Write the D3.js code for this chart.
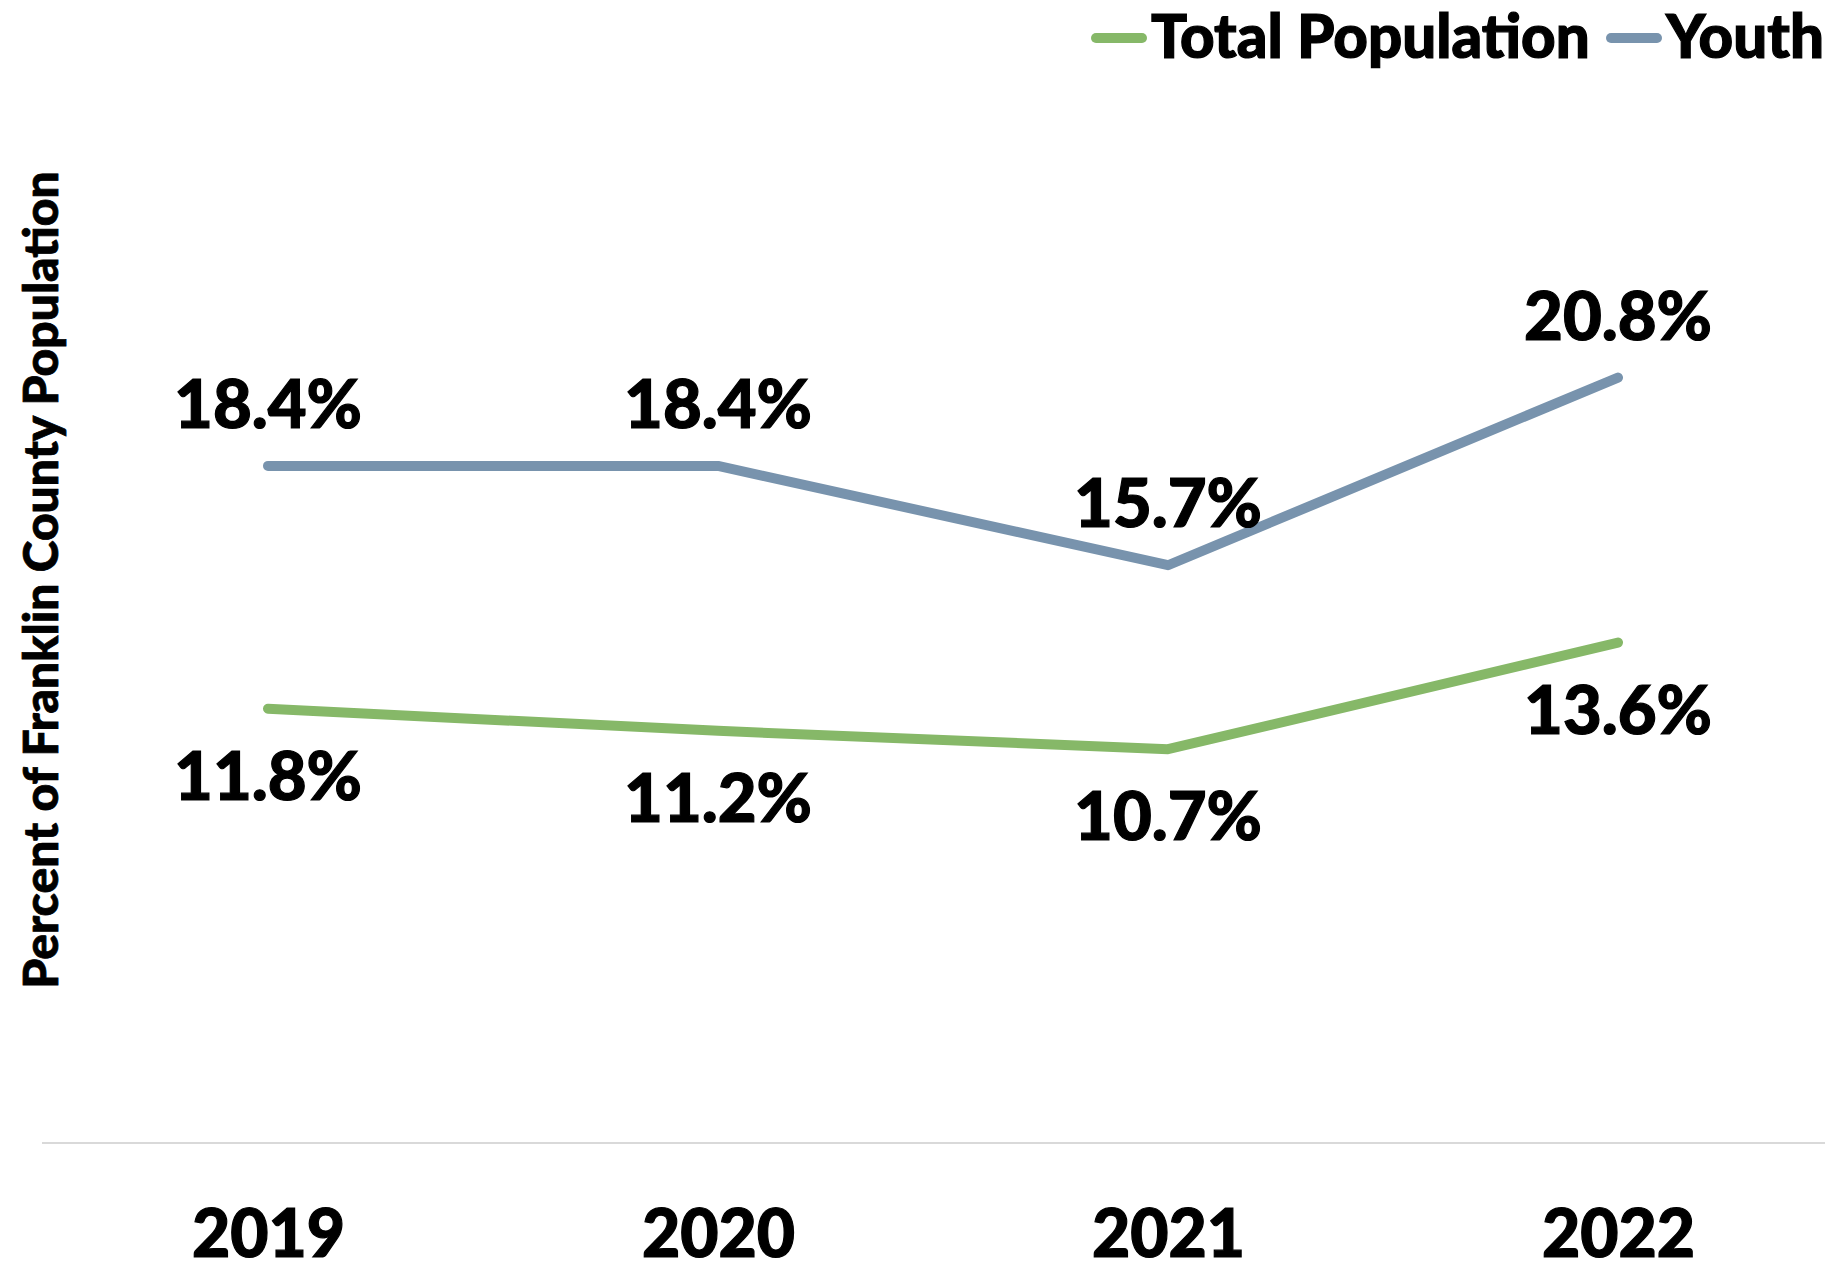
<!DOCTYPE html>
<html>
<head>
<meta charset="utf-8">
<script src="https://cdn.jsdelivr.net/npm/d3@7"></script>
<style>
  body { margin: 0; background: #fff; }
  svg { display: block; font-family: Lato, "Open Sans", sans-serif; font-weight: 900; }
  text { stroke: #000; stroke-width: 1.2px; }
</style>
</head>
<body>
<div id="myChart"></div>
<script>
const years = ["2019", "2020", "2021", "2022"];
const totalPopulation = [11.8, 11.2, 10.7, 13.6];
const youth = [18.4, 18.4, 15.7, 20.8];
const seriesNames = ["Total Population", "Youth"];
const seriesColors = ["#86B868", "#7893AD"];

const width = 1825,
  height = 1271;

const svg = d3
  .select("#myChart")
  .append("svg")
  .attr("width", width)
  .attr("height", height);

// scales
const x = d3.scalePoint().domain(years).range([43, 1843]).padding(0.5);
const y = d3.scaleLinear().domain([0, 25]).range([1143, 223]);

// baseline
svg
  .append("line")
  .attr("x1", 42)
  .attr("x2", width)
  .attr("y1", y(0))
  .attr("y2", y(0))
  .attr("stroke", "#D9D9D9")
  .attr("stroke-width", 2);

// x axis labels
const xAxis = svg
  .append("g")
  .attr("transform", "translate(0," + y(0) + ")")
  .call(d3.axisBottom(x).tickSize(0).tickPadding(0));
xAxis.select(".domain").remove();
xAxis
  .selectAll("text")
  .attr("dy", null)
  .attr("y", 114)
  .attr("fill", "#000")
  .style("font-family", "Lato, sans-serif")
  .style("font-weight", "900")
  .style("font-size", "66px");

// y axis title
svg
  .append("text")
  .attr("transform", "translate(58,580) rotate(-90)")
  .attr("text-anchor", "middle")
  .style("font-size", "48px")
  .style("stroke-width", "0.8px")
  .text("Percent of Franklin County Population");

const series = [
  { name: seriesNames[0], values: totalPopulation, color: seriesColors[0], dy: 91 },
  { name: seriesNames[1], values: youth, color: seriesColors[1], dy: -38 },
];

const line = d3
  .line()
  .x((d, i) => x(years[i]))
  .y((d) => y(d));

series.forEach((s) => {
  svg
    .append("path")
    .datum(s.values)
    .attr("fill", "none")
    .attr("stroke", s.color)
    .attr("stroke-width", 10)
    .attr("stroke-linecap", "round")
    .attr("stroke-linejoin", "round")
    .attr("d", line);

  svg
    .selectAll(null)
    .data(s.values)
    .enter()
    .append("text")
    .attr("x", (d, i) => x(years[i]))
    .attr("y", (d) => y(d) + s.dy)
    .attr("text-anchor", "middle")
    .style("font-size", "67px")
    .text((d) => d.toFixed(1) + "%");
});

// legend
const legendItems = [
  { name: seriesNames[0], color: seriesColors[0], x: 1091 },
  { name: seriesNames[1], color: seriesColors[1], x: 1606 },
];
legendItems.forEach((l) => {
  svg
    .append("line")
    .attr("x1", l.x + 5)
    .attr("x2", l.x + 51)
    .attr("y1", 38)
    .attr("y2", 38)
    .attr("stroke", l.color)
    .attr("stroke-width", 10)
    .attr("stroke-linecap", "round");
  svg
    .append("text")
    .attr("x", l.x + 60)
    .attr("y", 58)
    .style("font-size", "60px")
    .text(l.name);
});
</script>
</body>
</html>
